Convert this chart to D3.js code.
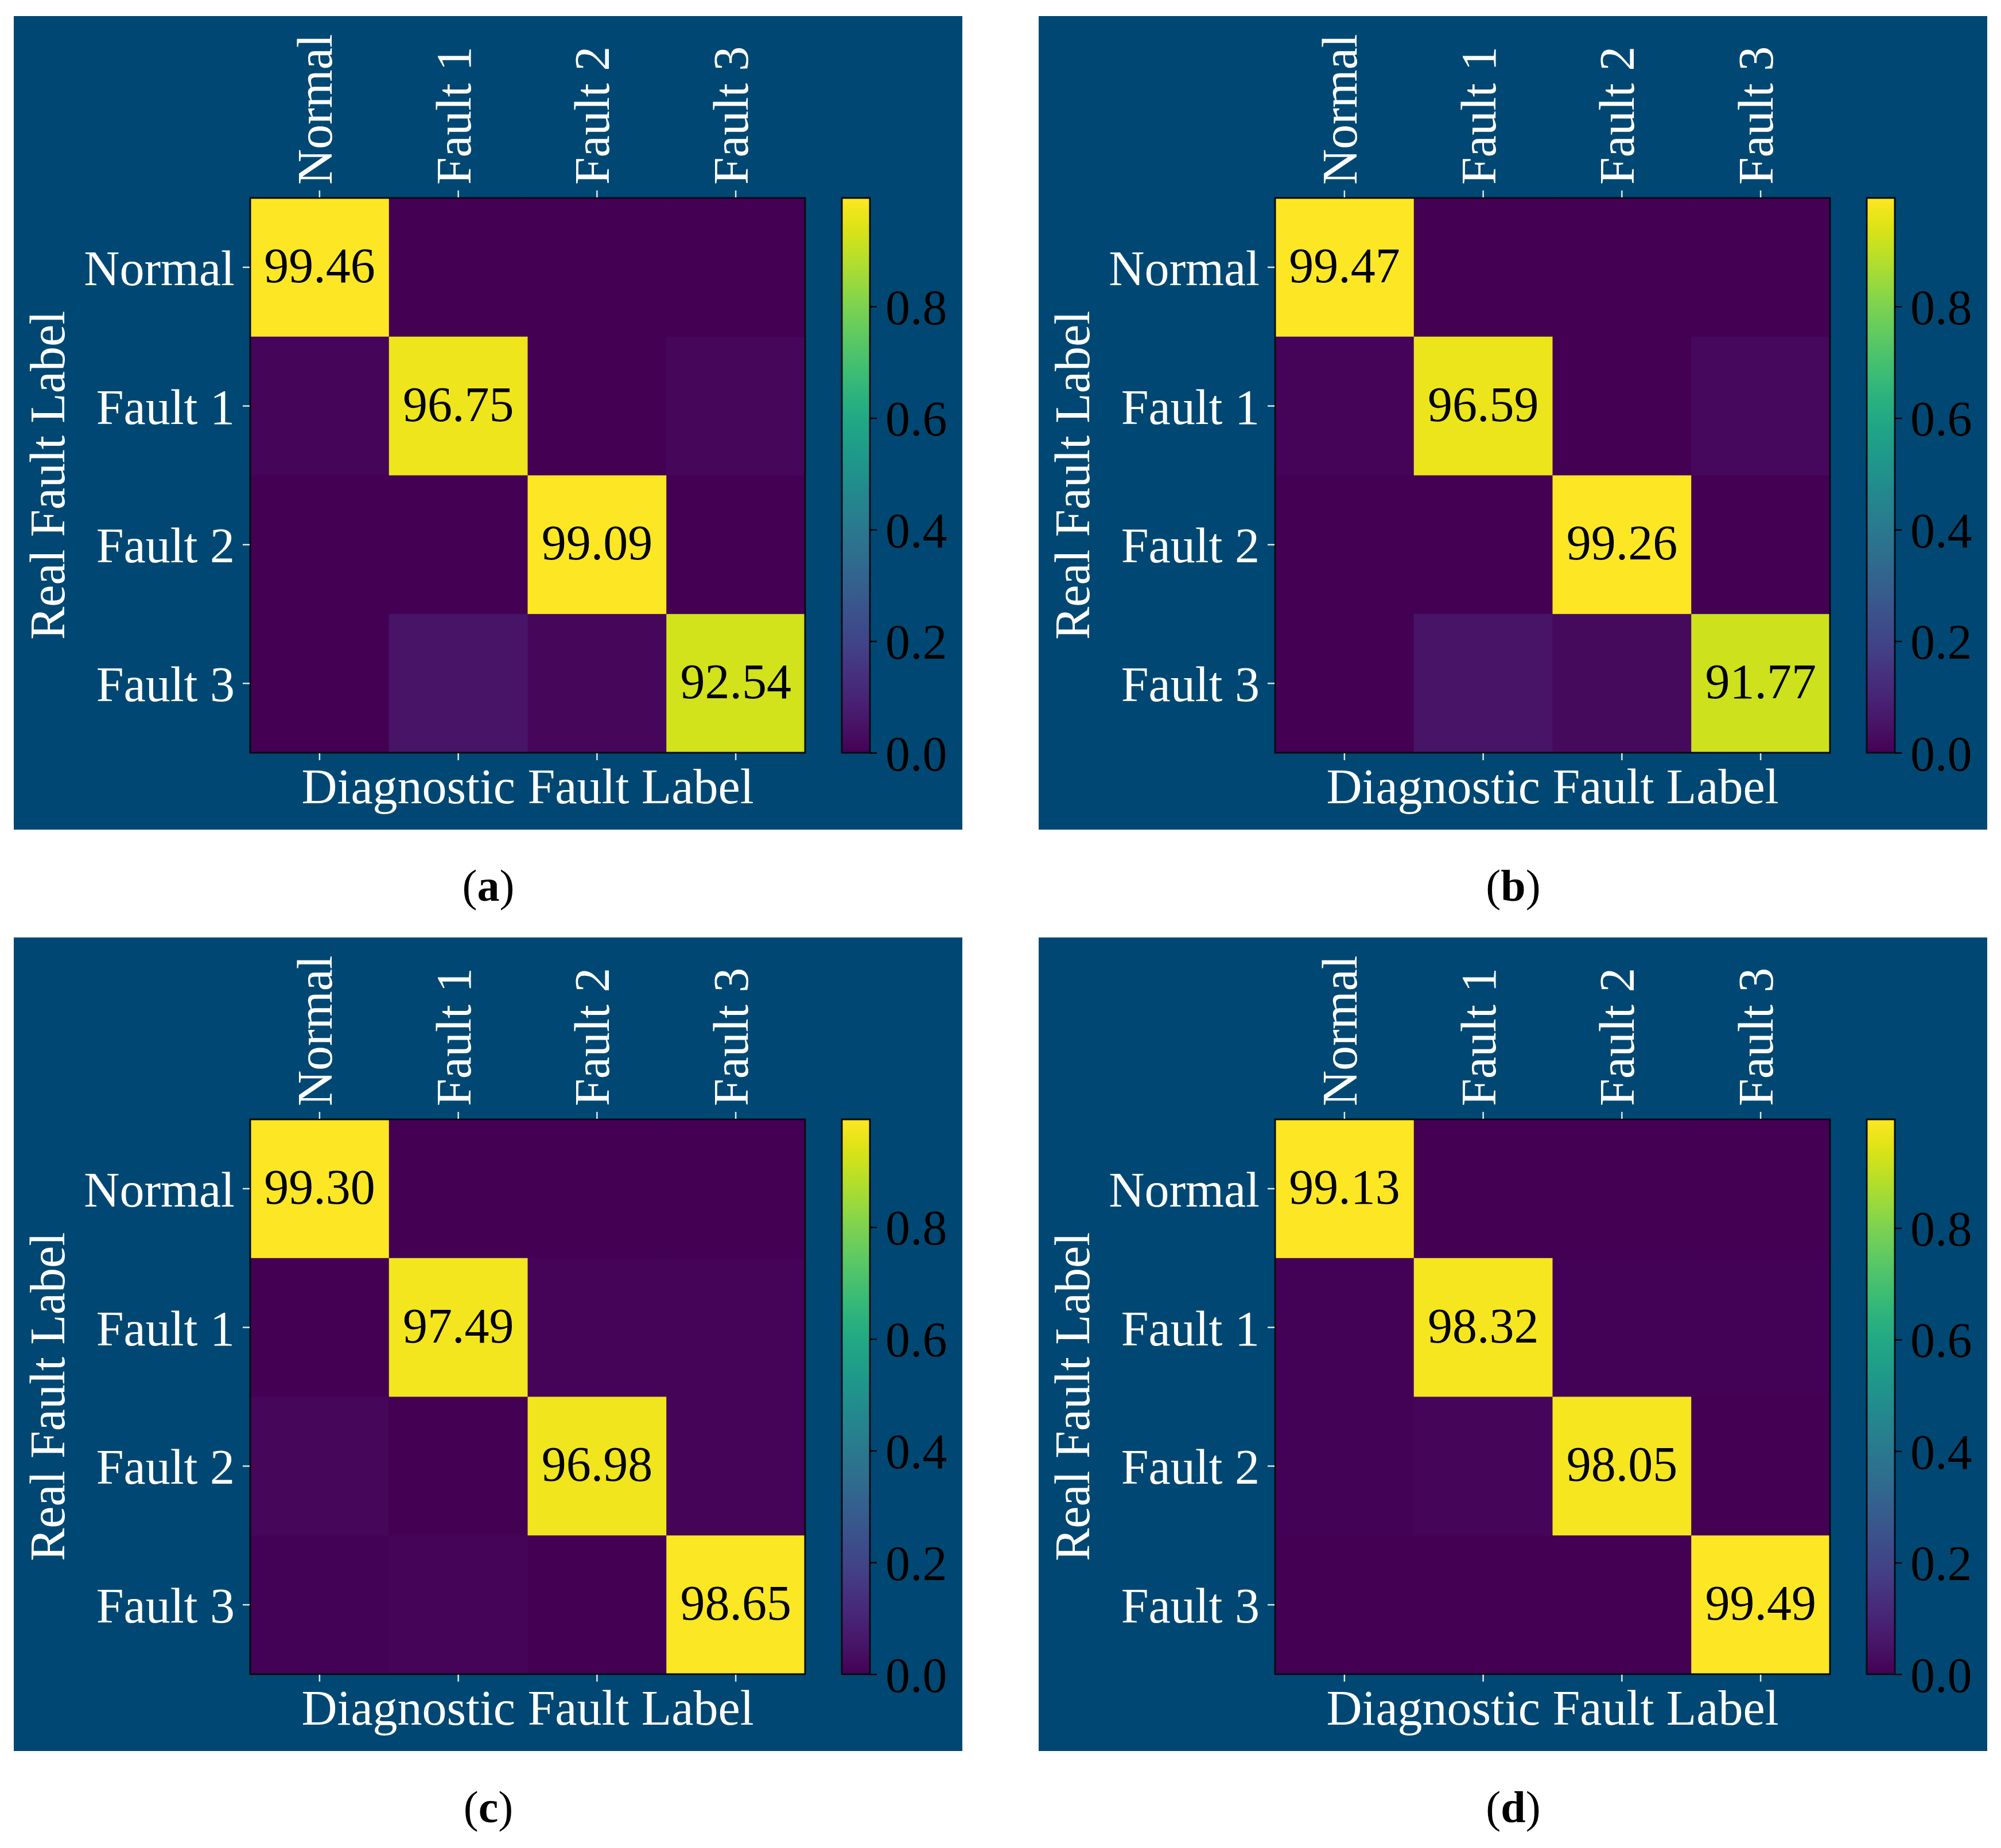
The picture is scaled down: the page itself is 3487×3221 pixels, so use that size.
<!DOCTYPE html>
<html>
<head>
<meta charset="utf-8">
<script src="https://cdn.jsdelivr.net/npm/d3@7"></script>
<style>
  html, body { margin: 0; padding: 0; background: #ffffff; }
  svg { display: block; }
  text { font-family: "Liberation Serif", "Times New Roman", serif; }
</style>
</head>
<body>
<svg id="chart" width="3487" height="3221"></svg>
<script>
// ---- data (percent, rows = real label, cols = diagnostic label) ----
const categories = ["Normal", "Fault 1", "Fault 2", "Fault 3"];
const panelLetters = ["a", "b", "c", "d"];
const matrixA = [
  [99.46, 0.27, 0.00, 0.27],
  [1.48, 96.75, 0.12, 1.65],
  [0.31, 0.27, 99.09, 0.33],
  [0.29, 5.26, 1.91, 92.54]
];
const matrixB = [
  [99.47, 0.21, 0.00, 0.32],
  [1.02, 96.59, 0.18, 2.21],
  [0.20, 0.22, 99.26, 0.32],
  [0.15, 5.41, 2.67, 91.77]
];
const matrixC = [
  [99.30, 0.35, 0.35, 0.00],
  [0.32, 97.49, 1.12, 1.07],
  [1.63, 0.28, 96.98, 1.11],
  [0.45, 0.90, 0.00, 98.65]
];
const matrixD = [
  [99.13, 0.30, 0.27, 0.30],
  [0.62, 98.32, 0.55, 0.51],
  [0.41, 1.18, 98.05, 0.36],
  [0.00, 0.22, 0.29, 99.49]
];
const colorbarTicks = [0.0, 0.2, 0.4, 0.6, 0.8];
const xAxisTitle = "Diagnostic Fault Label";
const yAxisTitle = "Real Fault Label";

const matrices = [matrixA, matrixB, matrixC, matrixD];

// ---- layout ----
const svg = d3.select("#chart");
svg.append("rect").attr("width", 3487).attr("height", 3221).attr("fill", "#ffffff");

const BG = "#004873";
const FONT = 86;
const panelOffsets = [[0, 0], [1786, 0], [0, 1606], [1786, 1606]];
const hm = { x0: 436, x1: 1403, y0: 345, y1: 1312 };
const cb = { x0: 1467, x1: 1516 };

// gradient for colorbar
const defs = svg.append("defs");
const grad = defs.append("linearGradient").attr("id", "viridisGrad")
  .attr("x1", 0).attr("y1", 1).attr("x2", 0).attr("y2", 0);
d3.range(0, 1.0001, 0.02).forEach(t => {
  grad.append("stop").attr("offset", t).attr("stop-color", d3.interpolateViridis(t));
});

matrices.forEach((mat, pi) => {
  const [ox, oy] = panelOffsets[pi];
  const g = svg.append("g").attr("transform", `translate(${ox},${oy})`);

  // panel background
  g.append("rect").attr("x", 24).attr("y", 28).attr("width", 1653).attr("height", 1418).attr("fill", BG);

  const flat = [];
  mat.forEach((row, i) => row.forEach((v, j) => flat.push({ i, j, v: v / 100 })));
  const vmax = d3.max(flat, d => d.v);
  const vmin = d3.min(flat, d => d.v);
  const color = d3.scaleSequential(d3.interpolateViridis).domain([vmin, vmax]);

  const x = d3.scaleBand().domain(categories).range([hm.x0, hm.x1]);
  const y = d3.scaleBand().domain(categories).range([hm.y0, hm.y1]);

  // cells
  g.append("g").selectAll("rect").data(flat).join("rect")
    .attr("x", d => x(categories[d.j]))
    .attr("y", d => y(categories[d.i]))
    .attr("width", x.bandwidth() + 0.5)
    .attr("height", y.bandwidth() + 0.5)
    .attr("fill", d => color(d.v));

  // diagonal annotations
  g.append("g").selectAll("text").data(flat.filter(d => d.i === d.j)).join("text")
    .attr("x", d => x(categories[d.j]) + x.bandwidth() / 2)
    .attr("y", d => y(categories[d.i]) + y.bandwidth() / 2 + 26)
    .attr("text-anchor", "middle")
    .attr("font-size", FONT)
    .attr("fill", "#000000")
    .text(d => (d.v * 100).toFixed(2));

  // frame
  g.append("rect").attr("x", hm.x0).attr("y", hm.y0)
    .attr("width", hm.x1 - hm.x0).attr("height", hm.y1 - hm.y0)
    .attr("fill", "none").attr("stroke", "#0a0a14").attr("stroke-width", 3);

  const tickColor = "#dfe6ee";

  // top axis with rotated labels
  const topAx = g.append("g").attr("transform", `translate(0,${hm.y0 - 1})`)
    .call(d3.axisTop(x).tickSize(12).tickSizeOuter(0));
  topAx.select(".domain").remove();
  topAx.selectAll(".tick line").attr("stroke", tickColor).attr("stroke-width", 2.5);
  topAx.selectAll(".tick text")
    .attr("x", null).attr("y", null).attr("dy", null)
    .attr("transform", "translate(21,-22) rotate(-90)")
    .attr("text-anchor", "start")
    .attr("font-size", FONT)
    .attr("font-family", "Liberation Serif, Times New Roman, serif")
    .attr("fill", "#ffffff");

  // bottom axis ticks only
  const botAx = g.append("g").attr("transform", `translate(0,${hm.y1 + 1})`)
    .call(d3.axisBottom(x).tickSize(12).tickSizeOuter(0).tickFormat(""));
  botAx.select(".domain").remove();
  botAx.selectAll(".tick line").attr("stroke", tickColor).attr("stroke-width", 2.5);

  // left axis
  const leftAx = g.append("g").attr("transform", `translate(${hm.x0 - 1},0)`)
    .call(d3.axisLeft(y).tickSize(12).tickSizeOuter(0));
  leftAx.select(".domain").remove();
  leftAx.selectAll(".tick line").attr("stroke", tickColor).attr("stroke-width", 2.5);
  leftAx.selectAll(".tick text")
    .attr("x", -26).attr("y", 31).attr("dy", null)
    .attr("text-anchor", "end")
    .attr("font-size", FONT)
    .attr("font-family", "Liberation Serif, Times New Roman, serif")
    .attr("fill", "#ffffff");

  // axis titles
  g.append("text").attr("x", (hm.x0 + hm.x1) / 2).attr("y", 1400)
    .attr("text-anchor", "middle").attr("font-size", FONT).attr("fill", "#ffffff")
    .text(xAxisTitle);
  g.append("text").attr("transform", `translate(112,${(hm.y0 + hm.y1) / 2}) rotate(-90)`)
    .attr("text-anchor", "middle").attr("font-size", FONT).attr("fill", "#ffffff")
    .text(yAxisTitle);

  // colorbar
  g.append("rect").attr("x", cb.x0).attr("y", hm.y0)
    .attr("width", cb.x1 - cb.x0).attr("height", hm.y1 - hm.y0)
    .attr("fill", "url(#viridisGrad)")
    .attr("stroke", "#0a0a14").attr("stroke-width", 3);
  const cScale = d3.scaleLinear().domain([vmin, vmax]).range([hm.y1, hm.y0]);
  const cbAx = g.append("g").attr("transform", `translate(${cb.x1},0)`)
    .call(d3.axisRight(cScale).tickValues(colorbarTicks).tickFormat(d3.format(".1f")).tickSize(12).tickSizeOuter(0));
  cbAx.select(".domain").remove();
  cbAx.selectAll(".tick line").attr("stroke", "#000000").attr("stroke-width", 2.5);
  cbAx.selectAll(".tick text")
    .attr("x", 27).attr("y", 30).attr("dy", null)
    .attr("text-anchor", "start")
    .attr("font-size", FONT)
    .attr("font-family", "Liberation Serif, Times New Roman, serif")
    .attr("fill", "#000000");

  // caption
  const cap = g.append("text").attr("x", 851).attr("y", 1570)
    .attr("text-anchor", "middle").attr("font-size", 78).attr("fill", "#000000");
  cap.append("tspan").text("(");
  cap.append("tspan").attr("font-weight", "bold").text(panelLetters[pi]);
  cap.append("tspan").text(")");
});
</script>
</body>
</html>
